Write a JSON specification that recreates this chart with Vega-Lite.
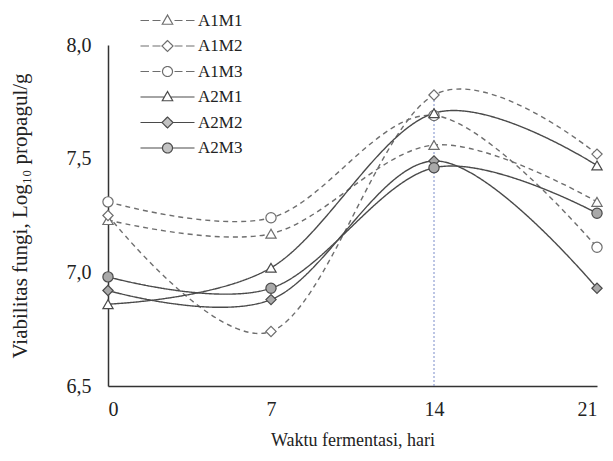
{
  "$schema": "https://vega.github.io/schema/vega-lite/v6.json",
  "width": 489,
  "height": 341,
  "autosize": {"type": "none"},
  "padding": {"left": 108, "top": 45, "right": 16, "bottom": 75},
  "background": "white",
  "config": {
    "view": {"stroke": null},
    "font": "Liberation Serif",
    "axis": {
      "labelFont": "Liberation Serif",
      "titleFont": "Liberation Serif",
      "labelFontSize": 20,
      "titleFontSize": 18,
      "titleFontWeight": "normal",
      "labelColor": "#222",
      "titleColor": "#222",
      "domainColor": "#333",
      "domainWidth": 1.5,
      "ticks": false,
      "grid": false
    }
  },
  "data": {
    "values": [
      {"series": "A1M1", "day": 0, "value": 7.23},
      {"series": "A1M1", "day": 7, "value": 7.17},
      {"series": "A1M1", "day": 14, "value": 7.56},
      {"series": "A1M1", "day": 21, "value": 7.31},
      {"series": "A1M2", "day": 0, "value": 7.25},
      {"series": "A1M2", "day": 7, "value": 6.74},
      {"series": "A1M2", "day": 14, "value": 7.78},
      {"series": "A1M2", "day": 21, "value": 7.52},
      {"series": "A1M3", "day": 0, "value": 7.31},
      {"series": "A1M3", "day": 7, "value": 7.24},
      {"series": "A1M3", "day": 14, "value": 7.69},
      {"series": "A1M3", "day": 21, "value": 7.11},
      {"series": "A2M1", "day": 0, "value": 6.86},
      {"series": "A2M1", "day": 7, "value": 7.02},
      {"series": "A2M1", "day": 14, "value": 7.7},
      {"series": "A2M1", "day": 21, "value": 7.47},
      {"series": "A2M2", "day": 0, "value": 6.92},
      {"series": "A2M2", "day": 7, "value": 6.88},
      {"series": "A2M2", "day": 14, "value": 7.49},
      {"series": "A2M2", "day": 21, "value": 6.93},
      {"series": "A2M3", "day": 0, "value": 6.98},
      {"series": "A2M3", "day": 7, "value": 6.93},
      {"series": "A2M3", "day": 14, "value": 7.46},
      {"series": "A2M3", "day": 21, "value": 7.26}
    ]
  },
  "encoding": {
    "x": {
      "field": "day",
      "type": "quantitative",
      "scale": {"domain": [0, 21], "nice": false, "zero": false},
      "axis": {
        "values": [0, 7, 14, 21],
        "title": "Waktu fermentasi, hari",
        "titlePadding": 12,
        "labelPadding": 13,
        "labelFontSize": 20,
        "titleFontSize": 18,
        "labelFont": "Liberation Serif",
        "titleFont": "Liberation Serif"
      }
    },
    "y": {
      "field": "value",
      "type": "quantitative",
      "scale": {"domain": [6.5, 8.0], "nice": false, "zero": false},
      "axis": {
        "values": [6.5, 7, 7.5, 8],
        "labelExpr": "replace(format(datum.value, '.1f'), '.', ',')",
        "title": "Viabilitas fungi, Log₁₀ propagul/g",
        "titleFontSize": 21,
        "labelFontSize": 20,
        "titlePadding": 36,
        "labelPadding": 17,
        "labelFont": "Liberation Serif",
        "titleFont": "Liberation Serif"
      }
    }
  },
  "layer": [
    {
      "data": {"values": [{"day": 14, "value": 6.5, "value2": 7.78}]},
      "mark": {"type": "rule", "color": "#7b8cc9", "strokeDash": [2, 2], "strokeWidth": 1},
      "encoding": {"y2": {"field": "value2"}}
    },
    {
      "mark": {"type": "line", "interpolate": "cardinal", "strokeWidth": 1.4},
      "encoding": {
        "stroke": {
          "field": "series",
          "type": "nominal",
          "scale": {
            "domain": ["A1M1", "A1M2", "A1M3", "A2M1", "A2M2", "A2M3"],
            "range": ["#6e6e6e", "#6e6e6e", "#6e6e6e", "#4a4a4a", "#4a4a4a", "#4a4a4a"]
          },
          "legend": null
        },
        "strokeDash": {
          "field": "series",
          "type": "nominal",
          "scale": {
            "domain": ["A1M1", "A1M2", "A1M3", "A2M1", "A2M2", "A2M3"],
            "range": [[5, 4], [5, 4], [5, 4], [1, 0], [1, 0], [1, 0]]
          },
          "legend": null
        }
      }
    },
    {
      "mark": {"type": "point", "size": 105, "strokeWidth": 1.2},
      "encoding": {
        "stroke": {"field": "series", "type": "nominal", "legend": null},
        "fill": {
          "field": "series",
          "type": "nominal",
          "scale": {
            "domain": ["A1M1", "A1M2", "A1M3", "A2M1", "A2M2", "A2M3"],
            "range": ["#ffffff", "#ffffff", "#ffffff", "#ffffff", "#a9a9a9", "#a9a9a9"]
          },
          "legend": null
        },
        "shape": {
          "field": "series",
          "type": "nominal",
          "scale": {
            "domain": ["A1M1", "A1M2", "A1M3", "A2M1", "A2M2", "A2M3"],
            "range": ["triangle-up", "diamond", "circle", "triangle-up", "diamond", "circle"]
          },
          "legend": null
        },
        "opacity": {
          "field": "series",
          "type": "nominal",
          "scale": {"range": [1, 1]},
          "legend": {
            "orient": "none",
            "legendX": 51,
            "legendY": -33,
            "title": null,
            "padding": 0,
            "symbolSize": 100,
            "symbolStrokeWidth": 1.2,
            "labelOffset": 22,
            "labelFont": "Liberation Serif",
            "labelFontSize": 17,
            "labelColor": "#222",
            "rowPadding": 7.5,
            "encoding": {
              "symbols": {
                "shape": {
                  "value": {
                    "expr": "datum.value === 'A1M1' ? 'M-5.4,0H-3.7M-3,0H-1.4M1.4,0H3M3.7,0H5.4M0,-1.1L1.05,0.75L-1.05,0.75Z' : datum.value === 'A1M2' ? 'M-5.4,0H-3.7M-3,0H-1.4M1.4,0H3M3.7,0H5.4M0,-1.1L1.1,0L0,1.1L-1.1,0Z' : datum.value === 'A1M3' ? 'M-5.4,0H-3.7M-3,0H-1.4M1.4,0H3M3.7,0H5.4M-1,0A1,1 0 1,0 1,0A1,1 0 1,0 -1,0Z' : datum.value === 'A2M1' ? 'M-5.4,0H-0.62M0.62,0H5.4M0,-1.1L1.05,0.75L-1.05,0.75Z' : datum.value === 'A2M2' ? 'M-5.4,0H-1.1M1.1,0H5.4M0,-1.1L1.1,0L0,1.1L-1.1,0Z' : 'M-5.4,0H-1M1,0H5.4M-1,0A1,1 0 1,0 1,0A1,1 0 1,0 -1,0Z'"
                  }
                },
                "fill": {"value": {"expr": "(datum.value === 'A2M2' || datum.value === 'A2M3') ? '#a9a9a9' : '#ffffff'"}},
                "stroke": {"value": {"expr": "substring(datum.value, 0, 2) === 'A1' ? '#6e6e6e' : '#4a4a4a'"}},
                "strokeDash": {"value": [1, 0]}
              }
            }
          }
        }
      }
    }
  ]
}
